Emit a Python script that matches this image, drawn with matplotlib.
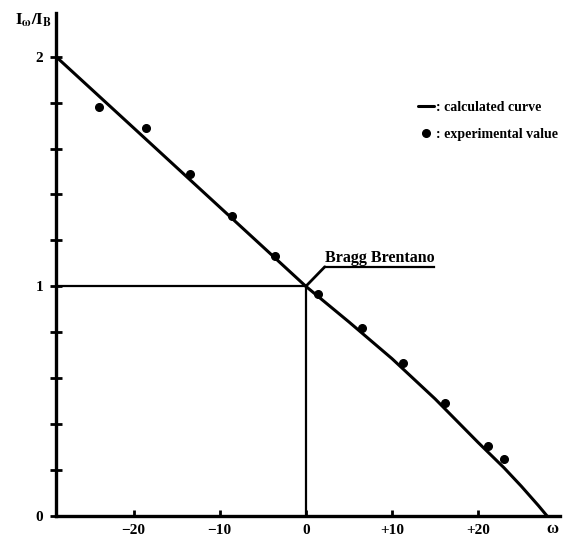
import matplotlib
matplotlib.use('Agg')
import matplotlib.pyplot as plt

plt.rcParams['font.family'] = ['Liberation Serif', 'DejaVu Serif']
plt.rcParams['font.weight'] = 'bold'
plt.rcParams['mathtext.fontset'] = 'stix'

# calculated curve (omega in degrees, I_omega / I_B)
calc_omega = [-29, -20, -10, 0, 5, 10, 15, 20, 23, 25, 27, 28]
calc_ratio = [2.0, 1.69, 1.345, 1.0, 0.845, 0.685, 0.51, 0.32, 0.21, 0.13, 0.045, 0.0]

# experimental values
exp_omega = [-24.0, -18.6, -13.5, -8.6, -3.6, 1.4, 6.5, 11.3, 16.2, 21.2, 23.0]
exp_ratio = [1.78, 1.69, 1.49, 1.305, 1.13, 0.967, 0.817, 0.667, 0.491, 0.306, 0.246]

xticks = [-20, -10, 0, 10, 20]
xlabels = ['\u221220', '\u221210', '0', '+10', '+20']
yticks = [0, 0.2, 0.4, 0.6, 0.8, 1.0, 1.2, 1.4, 1.6, 1.8, 2.0]
ylabels = ['0', '', '', '', '', '1', '', '', '', '', '2']

bragg = (0, 1)
label_pos = (2.2, 1.085)

fig = plt.figure(figsize=(5.63, 5.42), dpi=100)
ax = fig.add_axes([56 / 563, 26 / 542, 504 / 563, 503 / 542])
ax.set_xlim(-29, 29.5)
ax.set_ylim(0, 2.19)

for s in ['top', 'right']:
    ax.spines[s].set_visible(False)
for s in ['left', 'bottom']:
    ax.spines[s].set_linewidth(2.4)

ax.plot(calc_omega, calc_ratio, color='k', lw=2.2, solid_capstyle='round',
        label=': calculated curve')
ax.plot(exp_omega, exp_ratio, 'o', color='k', ms=5.5, ls='none',
        label=': experimental value')

# Bragg-Brentano reference lines
ax.plot([-29, bragg[0]], [bragg[1], bragg[1]], color='k', lw=1.6)
ax.plot([bragg[0], bragg[0]], [0, bragg[1]], color='k', lw=1.6)

txt = ax.text(label_pos[0], label_pos[1] + 0.004, 'Bragg Brentano', fontsize=11.5,
              fontweight='bold', ha='left', va='bottom')
ax.annotate('', xy=bragg, xytext=label_pos,
            arrowprops=dict(arrowstyle='-', lw=2, color='k', shrinkA=0, shrinkB=0))

ax.set_xticks(xticks)
ax.set_xticklabels(xlabels, fontsize=11, fontweight='bold')
ax.set_yticks(yticks)
ax.set_yticklabels(ylabels, fontsize=11, fontweight='bold')
ax.tick_params(axis='x', direction='in', length=4, width=2, pad=6)
ax.tick_params(axis='y', direction='inout', length=8, width=2, pad=5)

ax.text(0.985, -0.026, '\u03c9', transform=ax.transAxes, fontsize=12,
        fontweight='bold', ha='center', va='center')
fig.text(15 / 563, 1 - 20 / 542, r'$\mathbf{I_{\omega}/I_B}$', fontsize=12,
         ha='left', va='center')

leg = ax.legend(loc='upper right', bbox_to_anchor=(1.02, 0.85), frameon=False,
                handlelength=1.2, handletextpad=0.1, labelspacing=1.0,
                prop={'family': 'Liberation Serif', 'weight': 'bold', 'size': 10})

# underline under the annotation text
fig.canvas.draw()
bb = txt.get_window_extent().transformed(ax.transData.inverted())
ax.plot([label_pos[0], bb.x1], [label_pos[1], label_pos[1]], color='k', lw=1.6)

fig.savefig('out.png', dpi=100)
